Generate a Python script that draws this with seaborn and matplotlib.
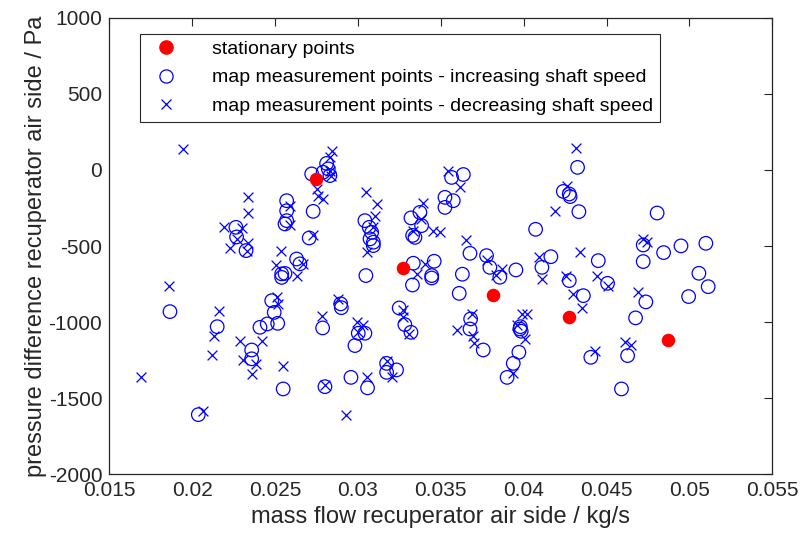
import numpy as np
import pandas as pd
import seaborn as sns
import matplotlib
matplotlib.use("Agg")
import matplotlib.pyplot as plt
from matplotlib.lines import Line2D

# stationary points
stat_x = [0.02747, 0.03274, 0.03816, 0.04273, 0.04872]
stat_y = [-59, -644, -819, -968, -1117]

# map measurement points - increasing shaft speed (circles)
inc_x = [0.02264, 0.02268, 0.02325, 0.0254, 0.0257, 0.0257, 0.0257, 0.0256,
         0.01866, 0.02151, 0.02037, 0.02359, 0.02359, 0.02549, 0.02409, 0.02453,
         0.02495, 0.02516, 0.0248, 0.0254, 0.0256,
         0.02811, 0.02821, 0.02831, 0.02721, 0.0279, 0.0273, 0.02706, 0.0263, 0.0265,
         0.03042, 0.03068, 0.03083, 0.03073, 0.03093, 0.03093, 0.03048,
         0.03565, 0.03636, 0.03525, 0.03575, 0.03525, 0.03374, 0.0332, 0.03384,
         0.03344, 0.0333, 0.03334, 0.0346, 0.03445, 0.0363,
         0.04325, 0.04239, 0.04275, 0.0428, 0.04333, 0.04072, 0.03676, 0.03776,
         0.03796, 0.03953, 0.04164, 0.0411, 0.0445,
         0.04805, 0.04721, 0.04844, 0.04949, 0.05099, 0.04721, 0.05057,
         0.05113, 0.04995, 0.04737, 0.04675, 0.04627, 0.0459,
         0.03611, 0.0436, 0.04275, 0.04506, 0.03856,
         0.0368, 0.03676, 0.03756, 0.03977, 0.03985, 0.0398, 0.03971, 0.03937, 0.039, 0.04405,
         0.03445, 0.03329, 0.02896, 0.029, 0.02787, 0.03002, 0.03042, 0.02982,
         0.02801, 0.02958, 0.03058, 0.03173, 0.03173, 0.03233, 0.03249, 0.03283, 0.0332]
inc_y = [-377, -440, -530, -683, -202, -268, -333, -355,
         -931, -1030, -1608, -1183, -1241, -1439, -1034, -1012,
         -936, -1008, -859, -706, -680,
         43, 7, -37, -26, -15, -272, -447, -585, -617,
         -333, -377, -410, -453, -475, -497, -694,
         -49, -30, -180, -202, -246, -279, -315, -366,
         -443, -430, -613, -600, -694, -685,
         17, -141, -158, -175, -274, -390, -548, -563,
         -640, -657, -570, -640, -596,
         -283, -493, -543, -499, -482, -602, -679,
         -767, -832, -867, -972, -1220, -1439,
         -811, -826, -727, -745, -705,
         -979, -1045, -1183, -1045, -1060, -1030, -1198, -1271, -1363, -1231,
         -710, -756, -880, -905, -1038, -1073, -1073, -1154,
         -1424, -1363, -1432, -1271, -1330, -1314, -907, -1016, -1067]

# map measurement points - decreasing shaft speed (crosses)
dec_x = [0.01946, 0.02338, 0.02338, 0.02194, 0.02302, 0.0227, 0.02338, 0.02228, 0.0233,
         0.02537, 0.02505, 0.0259, 0.0259,
         0.01862, 0.02163, 0.02133, 0.02118, 0.01693, 0.02063, 0.02288, 0.02419,
         0.02305, 0.02385, 0.02359, 0.02549, 0.0251, 0.0252,
         0.02841, 0.02831, 0.0283, 0.0284, 0.02761, 0.0279, 0.02751, 0.02726, 0.0267, 0.0263,
         0.03048, 0.03113, 0.03103, 0.03093, 0.03052, 0.03545, 0.03394, 0.0338, 0.03334,
         0.03455, 0.03495, 0.03404, 0.03354,
         0.04316, 0.04263, 0.0419, 0.03652, 0.03776, 0.03867, 0.0383, 0.04094, 0.04339,
         0.04255, 0.0444, 0.03615,
         0.04717, 0.04741, 0.0469, 0.0461, 0.04647,
         0.04299, 0.04353, 0.04108, 0.0451, 0.03686, 0.03595, 0.03696, 0.037,
         0.03987, 0.04017, 0.0396, 0.04007, 0.03937, 0.0443,
         0.02881, 0.02781, 0.02992, 0.03032, 0.03002, 0.02801, 0.03056, 0.02928,
         0.03173, 0.03203, 0.03269, 0.03269, 0.0331]
dec_y = [138, -180, -285, -377, -381, -455, -482, -513, -530,
         -535, -622, -240, -360,
         -762, -929, -1089, -1216, -1363, -1581, -1126, -1126,
         -1248, -1275, -1340, -1286, -832, -880,
         127, 83, -10, -40, -169, -191, -124, -425, -617, -694,
         -147, -223, -300, -377, -541, -5, -219, -322, -399,
         -399, -410, -618, -683,
         145, -103, -272, -458, -590, -650, -690, -570, -541,
         -694, -694, -114,
         -453, -475, -804, -1133, -1148,
         -815, -907, -716, -760, -946, -1049, -1089, -1139,
         -946, -946, -1020, -1110, -1336, -1187,
         -848, -957, -1001, -1016, -1065, -1410, -1358, -1610,
         -1258, -1358, -920, -968, -1075]

x_ticks = [0.015, 0.02, 0.025, 0.03, 0.035, 0.04, 0.045, 0.05, 0.055]
x_ticklabels = ["0.015", "0.02", "0.025", "0.03", "0.035", "0.04", "0.045", "0.05", "0.055"]
y_ticks = [-2000, -1500, -1000, -500, 0, 500, 1000]
legend_labels = ["stationary points",
                 "map measurement points - increasing shaft speed",
                 "map measurement points - decreasing shaft speed"]

sns.set_style("white")
plt.rcParams['font.family'] = ['Liberation Sans', 'DejaVu Sans']
plt.rcParams['axes.unicode_minus'] = False

fig = plt.figure(figsize=(8.03, 5.47), dpi=100)
ax = fig.add_axes([0.1361, 0.1329, 0.8257, 0.8346])

df_inc = pd.DataFrame({"x": inc_x, "y": inc_y})
df_dec = pd.DataFrame({"x": dec_x, "y": dec_y})
df_stat = pd.DataFrame({"x": stat_x, "y": stat_y})

sns.scatterplot(data=df_inc, x="x", y="y", ax=ax, marker="o", s=95,
                facecolor="none", edgecolor="#0000ff", linewidth=0.9, zorder=3)
sns.scatterplot(data=df_dec, x="x", y="y", ax=ax, marker="x", s=50,
                color="#0000ff", linewidth=0.9, zorder=3)
sns.scatterplot(data=df_stat, x="x", y="y", ax=ax, marker="o", s=95,
                color="#ff0000", edgecolor="#ff0000", linewidth=0, zorder=4)

ax.set_xlim(0.015, 0.055)
ax.set_ylim(-2000, 1000)
ax.set_xticks(x_ticks)
ax.set_xticklabels(x_ticklabels)
ax.set_yticks(y_ticks)
ax.tick_params(axis="both", direction="in", length=6, width=0.8, labelsize=15,
               top=True, right=True, colors="#262626", pad=5)
for sp in ax.spines.values():
    sp.set_color("#262626")
    sp.set_linewidth(0.9)

ax.set_xlabel("mass flow recuperator air side / kg/s", fontsize=17, color="#262626", labelpad=4)
ax.set_ylabel("pressure difference recuperator air side / Pa", fontsize=17, color="#262626", labelpad=1)

handles = [
    Line2D([], [], marker="o", linestyle="none", markersize=9.5, markerfacecolor="#ff0000",
           markeredgecolor="#ff0000"),
    Line2D([], [], marker="o", linestyle="none", markersize=9.5, markerfacecolor="none",
           markeredgecolor="#0000ff", markeredgewidth=0.9),
    Line2D([], [], marker="x", linestyle="none", markersize=7, color="#0000ff",
           markeredgewidth=0.9),
]
leg = ax.legend(handles, legend_labels, loc="upper left", bbox_to_anchor=(0.046, 0.965),
                borderaxespad=0, fontsize=14, frameon=True, fancybox=False,
                edgecolor="#262626", framealpha=1, labelspacing=0.55,
                handletextpad=1.35, borderpad=0.35, handlelength=2.0)
leg.get_frame().set_linewidth(0.8)
for t in leg.get_texts():
    t.set_color("#000000")

fig.savefig("out.png", dpi=100)
